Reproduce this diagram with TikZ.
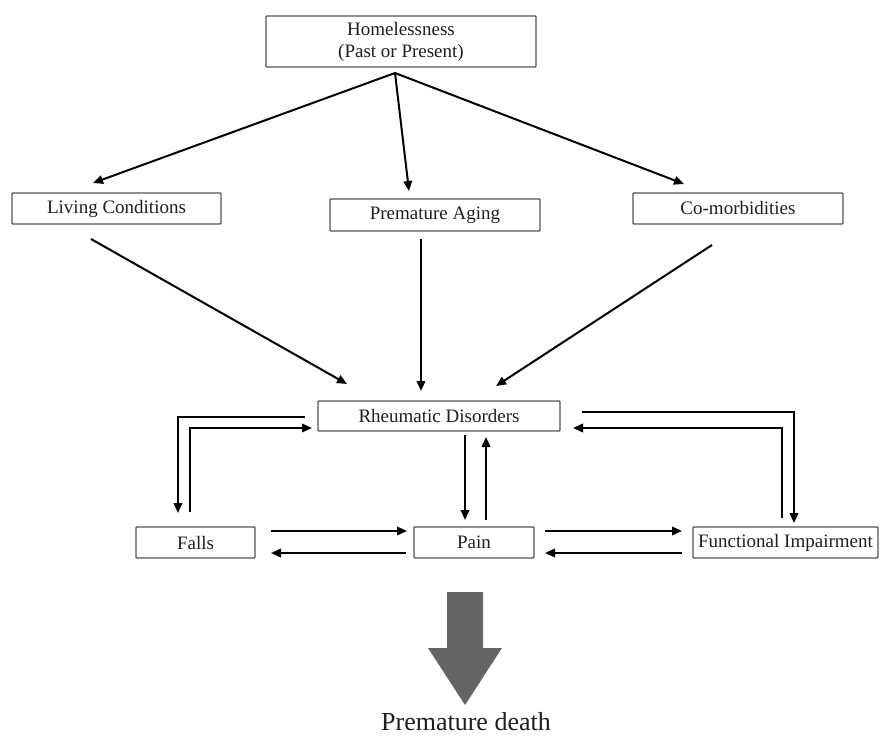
\documentclass[tikz,border=0pt]{standalone}
\usepackage{fontspec}
\setmainfont{Liberation Serif}
\usetikzlibrary{arrows.meta}
\definecolor{txt}{HTML}{1E1E1E}
\definecolor{boxc}{HTML}{555555}
\definecolor{bigc}{HTML}{656565}
\begin{document}
\begin{tikzpicture}[x=1pt,y=-1pt,
  box/.style={draw=boxc,line width=1.4pt,rounded corners=0.8pt,inner sep=0pt,align=center,
    text=txt,font=\fontsize{19}{22}\selectfont},
  arr/.style={draw=black,line width=2pt,-{Triangle[length=10pt,width=8.5pt]}},
]
\useasboundingbox (0,0) rectangle (880,743);
% boxes
\node[box,minimum width=270pt,minimum height=51pt] (home) at (401,41.5) {Homelessness\\(Past or Present)};
\node[box,minimum width=209pt,minimum height=31pt] (living) at (116.5,208.5) {Living Conditions};
\node[box,minimum width=210pt,minimum height=32pt] (aging) at (435,215) {Premature Aging};
\node[box,minimum width=210pt,minimum height=31pt] (comorb) at (738,208.5) {Co-morbidities};
\node[box,minimum width=242pt,minimum height=30pt] (rheum) at (439,416) {Rheumatic Disorders};
\node[box,minimum width=119pt,minimum height=31pt] (falls) at (195.5,542.5) {Falls};
\node[box,minimum width=120pt,minimum height=31pt] (pain) at (474,542.5) {Pain};
\node[box,minimum width=185pt,minimum height=31pt] (fi) at (785.5,542.5) {Functional Impairment};
% connector end points
\coordinate (hs) at (395,73);
\coordinate (livT) at (93,183);
\coordinate (ageT) at (409,191);
\coordinate (comT) at (684,184);
\coordinate (livB) at (91,239);
\coordinate (ageB) at (421,239);
\coordinate (comB) at (712,245);
\coordinate (rhL1) at (347,384);
\coordinate (rhL2) at (421,391);
\coordinate (rhL3) at (496,386);
% top fan
\draw[arr] (hs) -- (livT);
\draw[arr] (hs) -- (ageT);
\draw[arr] (hs) -- (comT);
\draw[arr] (livB) -- (rhL1);
\draw[arr] (ageB) -- (rhL2);
\draw[arr] (comB) -- (rhL3);
% left loop
\coordinate (ra) at (305,417);
\coordinate (fa) at (178,513);
\coordinate (fb) at (190,512);
\coordinate (rb) at (312,428);
\draw[arr] (ra) -| (fa);
\draw[arr] (fb) |- (rb);
% rheum <-> pain
\coordinate (rp1) at (465,435);
\coordinate (pp1) at (465,520);
\coordinate (pp2) at (486,520);
\coordinate (rp2) at (486,437);
\draw[arr] (rp1) -- (pp1);
\draw[arr] (pp2) -- (rp2);
% right loop
\coordinate (rc) at (582,412);
\coordinate (fic) at (794,523);
\coordinate (fid) at (782,518);
\coordinate (rd) at (573,428);
\draw[arr] (rc) -| (fic);
\draw[arr] (fid) |- (rd);
% falls <-> pain
\coordinate (f1) at (271,531);
\coordinate (p1) at (407,531);
\coordinate (p2) at (406,553);
\coordinate (f2) at (271,553);
\draw[arr] (f1) -- (p1);
\draw[arr] (p2) -- (f2);
% pain <-> fi
\coordinate (p3) at (545,531);
\coordinate (i1) at (682,531);
\coordinate (i2) at (682,553);
\coordinate (p4) at (545,553);
\draw[arr] (p3) -- (i1);
\draw[arr] (i2) -- (p4);
% big arrow
\fill[bigc] (447,592) -- (483,592) -- (483,648) -- (502,648) -- (465,705) -- (428,648) -- (447,648) -- cycle;
\node[text=txt,font=\fontsize{26}{28}\selectfont,inner sep=0pt] (death) at (466,722) {Premature death};
\end{tikzpicture}
\end{document}
